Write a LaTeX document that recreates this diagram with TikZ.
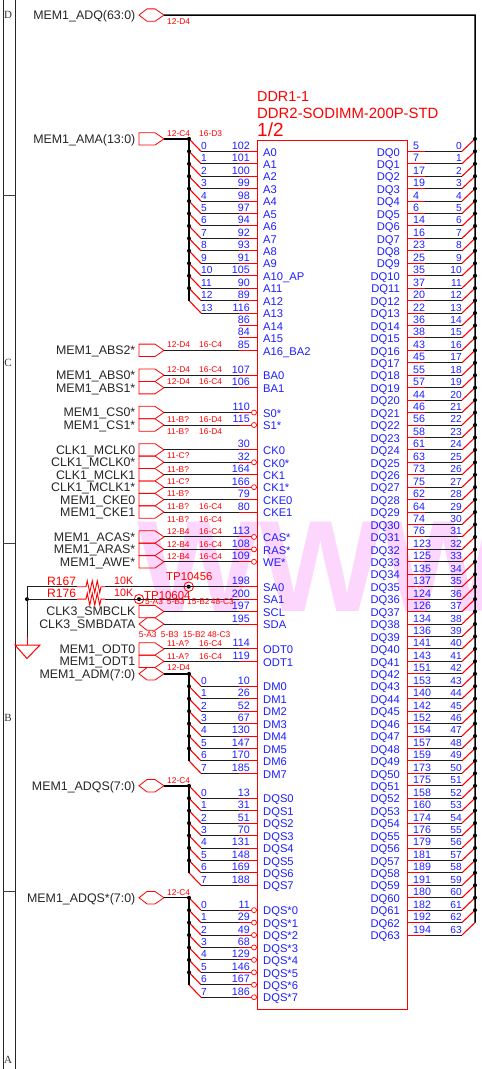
\documentclass[tikz,border=0pt]{standalone}
\usepackage{fontspec}
\setmainfont{Liberation Sans}
\newfontfamily\gridfont{Liberation Serif}
\usetikzlibrary{decorations.pathmorphing}
\definecolor{pinred}{RGB}{255,0,0}
\definecolor{pinblue}{RGB}{30,30,255}
\definecolor{wirecol}{RGB}{30,30,30}
\definecolor{markpink}{RGB}{252,214,252}

\begin{document}
\begin{tikzpicture}[x=1pt,y=-1pt,
		wire/.style={draw=wirecol,line width=0.9pt},
		busline/.style={draw=black,line width=1.5pt},
		stubline/.style={draw=pinred,line width=0.9pt},
		entry/.style={draw=pinred,line width=1.1pt},
		offpage/.style={draw=pinred,line width=0.8pt,line join=miter},
		busdot/.style={circle,fill=black,inner sep=0pt,minimum size=4pt},
		bubble/.style={circle,draw=pinred,fill=white,line width=0.7pt,inner sep=0pt,minimum size=5pt},
		netname/.style={inner sep=0pt,anchor=base east,text=black!85,font=\fontsize{12.4}{13}\selectfont},
		pinname/.style={inner sep=0pt,text=pinblue,font=\fontsize{11.2}{12}\selectfont},
		pinnum/.style={inner sep=0pt,text=pinblue,font=\fontsize{10.7}{11}\selectfont},
		busnum/.style={inner sep=0pt,text=pinblue,font=\fontsize{10.2}{11}\selectfont},
		refname/.style={inner sep=0pt,anchor=base west,text=pinred,font=\fontsize{8.4}{9}\selectfont},
		partname/.style={inner sep=0pt,anchor=base west,text=pinred},
		gridname/.style={inner sep=0pt,text=black!80,font=\gridfont\fontsize{11}{11}\selectfont},
		resistor/.style={stubline,decorate,decoration={zigzag,segment length=5pt,amplitude=6pt,pre length=9pt,post length=2pt}}]
	\useasboundingbox (0,0) rectangle (482,1069);

	\begin{scope}
		\clip (0,0) rectangle (482,1069);
		\node[inner sep=0pt,anchor=base west,text=markpink,font=\bfseries\fontsize{130}{130}\selectfont] (mark) at (137,611) {WWW};
	\end{scope}

	\coordinate (gridtl) at (3,0);
	\coordinate (gridbl) at (3,1069);
	\coordinate (gridtr) at (15,0);
	\coordinate (gridbr) at (15,1069);
	\draw [black!85,line width=0.9pt] (gridtl) -- (gridbl);
	\draw [black!85,line width=0.9pt] (gridtr) -- (gridbr);
	\foreach \yy [count=\c] in {195,543,891}{
		\coordinate (tickl\c) at (3,\yy);
		\coordinate (tickr\c) at (15,\yy);
		\draw [black!75,line width=0.8pt] (tickl\c) -- (tickr\c);
	}
	\foreach \yy/\t in {15/D,363/C,718/B,1060/A}
		\node[gridname] (grid\t) at (8,\yy) {\t};

	\node[draw=pinred,line width=0.9pt,inner sep=0pt,minimum width=150pt,minimum height=869pt] (body) at (332,574.5) {};
	\node[partname,font=\fontsize{14.4}{15}\selectfont] (refdes) at (257,101) {DDR1-1};
	\node[partname,font=\fontsize{14.9}{16}\selectfont] (partno) at (257,118) {DDR2-SODIMM-200P-STD};
	\node[partname,font=\fontsize{19}{20}\selectfont] (sheet) at (257,136) {1/2};

	\foreach \r/\nm/\num in {0/A0/102,1/A1/101,2/A2/100,3/A3/99,4/A4/98,5/A5/97,6/A6/94,7/A7/92,8/A8/93,9/A9/91,10/A10\_AP/105,11/A11/90,12/A12/89,13/A13/116,14/A14/86,15/A15/84,16/A16\_BA2/85,18/BA0/107,19/BA1/106,21/S0*/110,22/S1*/115,24/CK0/30,25/CK0*/32,26/CK1/164,27/CK1*/166,28/CKE0/79,29/CKE1/80,31/CAS*/113,32/RAS*/108,33/WE*/109,35/SA0/198,36/SA1/200,37/SCL/197,38/SDA/195,40/ODT0/114,41/ODT1/119,43/DM0/10,44/DM1/26,45/DM2/52,46/DM3/67,47/DM4/130,48/DM5/147,49/DM6/170,50/DM7/185,52/DQS0/13,53/DQS1/31,54/DQS2/51,55/DQS3/70,56/DQS4/131,57/DQS5/148,58/DQS6/169,59/DQS7/188,61/DQS*0/11,62/DQS*1/29,63/DQS*2/49,64/DQS*3/68,65/DQS*4/129,66/DQS*5/146,67/DQS*6/167,68/DQS*7/186}{
		\pgfmathsetmacro\py{151.3+12.44*\r}
		\coordinate (lw\r) at (239,\py);
		\coordinate (le\r) at (257,\py);
		\draw [stubline] (lw\r) -- (le\r);
		\node[pinname,anchor=base west] (lname\r) at (263,\py+4.7) {\nm};
		\node[pinnum,anchor=base east] (lnum\r) at (250,\py-2) {\num};
	}
	\foreach \r in {21,22,25,27,31,32,33,61,62,63,64,65,66,67,68}{
		\pgfmathsetmacro\py{151.3+12.44*\r}
		\node[bubble] (lbub\r) at (254,\py) {};
	}

	\foreach \num [count=\k from 0] in {5,7,17,19,4,6,14,16,23,25,35,37,20,22,36,38,43,45,55,57,44,46,56,58,61,63,73,75,62,64,74,76,123,125,135,137,124,126,134,136,141,143,151,153,140,142,152,154,157,159,173,175,158,160,174,176,179,181,189,191,180,182,192,194}{
		\pgfmathsetmacro\py{151.3+12.44*\k}
		\coordinate (rp\k) at (407,\py);
		\coordinate (rw\k) at (425,\py);
		\coordinate (re\k) at (462,\py);
		\coordinate (rb\k) at (475,\py-12.44);
		\draw [stubline] (rp\k) -- (rw\k);
		\draw [wire] (rw\k) -- (re\k);
		\draw [entry] (re\k) -- (rb\k);
		\node[pinname,anchor=base east] (rname\k) at (400,\py+4.7) {DQ\k};
		\node[pinnum,anchor=base west] (rnum\k) at (413,\py-2) {\num};
		\node[busnum,anchor=base east] (ridx\k) at (462,\py-2) {\k};
	}

	\foreach \id/\r/\nm in {ama/-1/MEM1\_AMA(13:0),16/16/MEM1\_ABS2*,18/18/MEM1\_ABS0*,19/19/MEM1\_ABS1*,21/21/MEM1\_CS0*,22/22/MEM1\_CS1*,24/24/CLK1\_MCLK0,25/25/CLK1\_MCLK0*,26/26/CLK1\_MCLK1,27/27/CLK1\_MCLK1*,28/28/MEM1\_CKE0,29/29/MEM1\_CKE1,31/31/MEM1\_ACAS*,32/32/MEM1\_ARAS*,33/33/MEM1\_AWE*,37/37/CLK3\_SMBCLK,40/40/MEM1\_ODT0,41/41/MEM1\_ODT1}{
		\pgfmathsetmacro\py{151.3+12.44*\r}
		\coordinate (oc\id) at (164,\py);
		\draw [offpage] (139,\py-6.2) -- (155,\py-6.2) -- (oc\id) -- (155,\py+6.2) -- (139,\py+6.2) -- cycle;
		\node[netname] (net\id) at (135.5,\py+4.4) {\nm};
	}
	\foreach \id/\r/\nm in {adq/-10.95/MEM1\_ADQ(63:0),38/38/CLK3\_SMBDATA,adm/42/MEM1\_ADM(7:0),adqs/51/MEM1\_ADQS(7:0),adqsn/60/MEM1\_ADQS*(7:0)}{
		\pgfmathsetmacro\py{151.3+12.44*\r}
		\coordinate (oc\id) at (164,\py);
		\draw [offpage] (139,\py) -- (147,\py-6.2) -- (155,\py-6.2) -- (oc\id) -- (155,\py+6.2) -- (147,\py+6.2) -- cycle;
		\node[netname] (net\id) at (135.5,\py+4.4) {\nm};
	}
	\foreach \r in {16,18,19,21,22,24,25,26,27,28,29,31,32,33,37,38,40,41}
		\draw [wire] (oc\r) -- (lw\r);

	\foreach \id/\top/\n in {ama/-1/13,adm/42/7,adqs/51/7,adqsn/60/7}{
		\pgfmathsetmacro\py{151.3+12.44*\top}
		\coordinate (bt\id) at (189,\py);
		\foreach \k in {0,...,\n}{
			\pgfmathtruncatemacro\r{\top+1+\k}
			\pgfmathsetmacro\qy{151.3+12.44*\r}
			\coordinate (bs\r) at (189,\qy-12.44);
			\coordinate (bw\r) at (201,\qy);
			\draw [entry] (bs\r) -- (bw\r);
			\draw [wire] (bw\r) -- (lw\r);
			\node[busnum,anchor=base west] (lidx\r) at (201,\qy-2) {\k};
		}
		\pgfmathtruncatemacro\last{\top+1+\n}
		\draw [busline] (oc\id) -- (bt\id) -- (bs\last);
		\pgfmathtruncatemacro\dotlast{\last-2}
		\foreach \r in {\top,...,\dotlast}{
			\pgfmathsetmacro\qy{151.3+12.44*\r}
			\node[busdot] (ldot\r) at (189,\qy) {};
		}
	}

	\coordinate (rbtop) at (475,15.07);
	\draw [busline] (ocadq) -- (rbtop) -- (rb63);
	\foreach \k in {0,...,62}
		\node[busdot] (rdot\k) at (rb\k) {};

	\pgfmathsetmacro\ya{151.3+12.44*35}
	\pgfmathsetmacro\yb{151.3+12.44*36}
	\coordinate (rail) at (27,\ya);
	\node[busdot] (railj) at (27,\yb) {};
	\coordinate (r167a) at (77,\ya);
	\coordinate (r167b) at (105,\ya);
	\coordinate (r176a) at (77,\yb);
	\coordinate (r176b) at (105,\yb);
	\node[circle,draw=pinred,line width=0.8pt,inner sep=0pt,minimum size=9.5pt] (tp10456) at (188.7,\ya) {};
	\node[busdot] (tp10456c) at (188.7,\ya) {};
	\node[circle,draw=pinred,line width=0.8pt,inner sep=0pt,minimum size=9.5pt] (tp10604) at (139,\yb) {};
	\node[busdot] (tp10604c) at (139,\yb) {};
	\coordinate (gndtop) at (27,645);
	\coordinate (gndstub) at (27,637);
	\coordinate (gndl) at (15,645);
	\coordinate (gndr) at (40,645);
	\coordinate (gndtip) at (27,658.5);

	\draw [wire] (gndstub) -- (rail) -- (r167a);
	\draw [wire] (railj) -- (r176a);
	\draw [wire] (r167b) -- (lw35);
	\draw [wire] (r176b) -- (lw36);
	\draw [resistor] (r167a) -- (r167b);
	\draw [resistor] (r176a) -- (r176b);
	\draw [stubline] (gndstub) -- (gndtop);
	\draw [offpage,line width=1pt] (gndl) -- (gndr) -- (gndtip) -- cycle;

	\node[partname,font=\fontsize{12.1}{13}\selectfont] (r167) at (47,585) {R167};
	\node[partname,font=\fontsize{12.1}{13}\selectfont] (r176) at (47,597.5) {R176};
	\node[partname,font=\fontsize{10.7}{11}\selectfont] (r167v) at (114,584) {10K};
	\node[partname,font=\fontsize{10.7}{11}\selectfont] (r176v) at (114,596.5) {10K};
	\node[partname,font=\fontsize{11.4}{12}\selectfont] (tp10456t) at (166,580) {TP10456};
	\node[partname,font=\fontsize{11.4}{12}\selectfont] (tp10604t) at (144,599) {TP10604};

	\foreach \yy/\ta/\tb [count=\c] in {133/12-C4/16-D3,344/12-D4/16-C4,369/12-D4/16-C4,381.7/12-D4/16-C4,419/11-B?/16-D4,431/11-B?/16-D4,506/11-B?/16-C4,519/11-B?/16-C4,531/12-B4/16-C4,544/12-B4/16-C4,556/12-B4/16-C4,643/11-A?/16-C4,656/11-A?/16-C4}{
		\node[refname] (refa\c) at (167,\yy+3) {\ta};
		\node[refname] (refb\c) at (199,\yy+3) {\tb};
	}
	\foreach \yy/\ta [count=\c] in {21/12-D4,455.7/11-C?,469/11-B?,481/11-C?,493.3/11-B?,667.7/12-D4,780/12-C4,892/12-C4}
		\node[refname] (refs\c) at (167,\yy+3) {\ta};
	\foreach \xx/\yy/\ta [count=\c] in {145/601.7/5-A3,166.7/601.7/5-B3,187/601.7/15-B2,210.7/601.7/48-C3,138.7/634/5-A3,160.7/634/5-B3,182.7/634/15-B2,207.3/634/48-C3}
		\node[refname] (refm\c) at (\xx,\yy+3) {\ta};
\end{tikzpicture}
\end{document}
